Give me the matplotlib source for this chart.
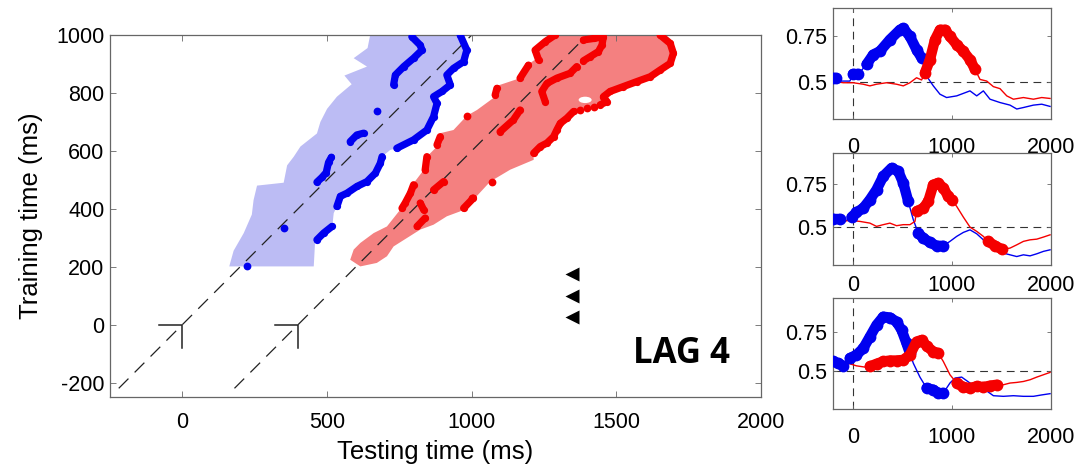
import numpy as np
import matplotlib
matplotlib.use("Agg")
import matplotlib.pyplot as plt
from matplotlib.patches import Polygon, Ellipse

plt.rcParams['font.family'] = ['Liberation Sans', 'DejaVu Sans']
plt.rcParams['axes.unicode_minus'] = False

BLUE = '#0000f0'
RED = '#f50000'
BLUE_FILL = '#bcbcf4'
RED_FILL = '#f48080'
FRAME = '#666666'

# ---- main panel: temporal generalisation regions (testing ms, training ms)
blue_region_x = [162, 454, 459, 517, 523, 534, 546, 569, 603, 638, 667, 684, 690,
                 718, 741, 799, 845, 868, 880, 868, 897, 926, 914, 937, 972, 983,
                 966, 649, 640, 592, 638, 560, 585, 534, 500, 477, 465, 408, 385,
                 362, 350, 258, 246, 240, 212, 177]
blue_region_y = [201, 201, 293, 328, 385, 408, 443, 454, 477, 494, 523, 557, 580,
                 603, 609, 638, 672, 718, 764, 787, 805, 828, 862, 885, 908, 948,
                 1000, 1000, 955, 920, 891, 860, 830, 787, 745, 700, 660, 615, 580,
                 550, 490, 480, 430, 380, 316, 255]

red_region_x = [580, 615, 672, 707, 730, 776, 822, 868, 914, 960, 1000, 1064, 1133,
                1214, 1214, 1260, 1294, 1306, 1340, 1363, 1409, 1444, 1467, 1450,
                1501, 1570, 1640, 1686, 1697, 1674, 1651, 1280, 1254, 1214, 1225,
                1191, 1167, 1098, 1075, 1081, 1018, 983, 937, 891, 880, 845, 834,
                799, 776, 753, 707, 661, 638, 615, 592]
red_region_y = [224, 201, 213, 236, 270, 299, 328, 345, 374, 391, 425, 494, 535,
                569, 592, 627, 661, 695, 718, 741, 753, 759, 770, 793,
                805, 833, 868, 902, 948, 983, 1000, 1000, 977, 954, 919,
                896, 851, 828, 810, 787, 741, 721, 672, 661, 615, 580, 534,
                488, 431, 397, 339, 316, 299, 282, 259]

# significant points drawn as dotted strands
blue_strands = [
    ([534, 546, 569, 603, 638, 667, 684, 690], [408, 443, 454, 477, 494, 523, 557, 580]),
    ([741, 799, 845, 868, 880, 868, 897, 926, 914, 937, 972, 983, 960],
     [609, 638, 672, 718, 764, 787, 805, 828, 862, 885, 908, 948, 1000]),
    ([465, 488, 517], [293, 316, 339]),
    ([730, 736, 765, 799, 828, 822, 793], [828, 862, 891, 920, 948, 965, 994]),
    ([465, 482, 497, 505, 515], [492, 508, 525, 560, 578]),
    ([580, 603, 626], [632, 655, 661]),
]
blue_single_x = [223, 350, 672]
blue_single_y = [201, 333, 738]

red_strands = [
    ([1651, 1686, 1697, 1686, 1651, 1617, 1570, 1524, 1478, 1455, 1467, 1444],
     [1000, 971, 937, 902, 879, 856, 839, 822, 805, 787, 770, 759]),
    ([1352, 1329, 1306, 1294, 1283, 1260, 1237, 1214], [736, 713, 695, 672, 649, 627, 615, 592]),
    ([1386, 1421, 1455, 1450, 1438, 1409, 1386], [983, 988, 994, 965, 943, 925, 911]),
    ([1363, 1340, 1294, 1260, 1242, 1254], [891, 868, 851, 833, 805, 770]),
    ([1288, 1254, 1219, 1231], [1000, 977, 948, 914]),
    ([1196, 1167], [896, 851]),
    ([1087, 1081], [816, 793]),
    ([1167, 1144, 1098], [741, 707, 666]),
    ([891, 880], [649, 621]),
    ([845, 839], [580, 534]),
    ([799, 788, 770, 759], [483, 454, 420, 402]),
    ([822, 834], [420, 396]),
    ([868, 903], [465, 494]),
    ([811, 839], [339, 368]),
    ([972, 1006], [402, 437]),
]
red_single_x = [983, 1070, 1001, 1421, 1398, 1375]
red_single_y = [721, 494, 437, 753, 747, 741]

lag_onsets = [0, 400]
diag_train = [-220, 1000]
marker_train = [175, 100, 25]
marker_test = 1345

# ---- right panels: decoding time courses (ms, AUC)
p_blue_t = [
    [-198, -165, -114, -30, 4, 54, 138, 206, 273, 374, 475, 509, 576, 643, 694, 744, 812,
     879, 946, 1048, 1182, 1250, 1317, 1384, 1485, 1586, 1654, 1721, 1822, 1906, 1990],
    [-198, -131, -81, -13, 37, 105, 172, 239, 307, 391, 458, 509, 559, 610, 660, 711, 778,
     846, 913, 980, 1048, 1115, 1182, 1250, 1317, 1384, 1452, 1519, 1586, 1654, 1721,
     1788, 1856, 1923, 1990],
    [-198, -148, -97, -30, 37, 105, 172, 239, 307, 374, 441, 492, 542, 576, 610, 677, 744,
     812, 862, 913, 980, 1031, 1098, 1182, 1250, 1334, 1418, 1519, 1620, 1721, 1822,
     1906, 1990],
]
p_blue_v = [
    [0.523, 0.523, 0.505, 0.505, 0.541, 0.541, 0.595, 0.648, 0.666, 0.729, 0.782, 0.791,
     0.746, 0.675, 0.630, 0.532, 0.479, 0.434, 0.416, 0.425, 0.452, 0.425, 0.452, 0.407,
     0.389, 0.375, 0.354, 0.362, 0.375, 0.380, 0.368],
    [0.547, 0.547, 0.533, 0.558, 0.585, 0.610, 0.659, 0.717, 0.795, 0.843, 0.824, 0.756,
     0.649, 0.543, 0.465, 0.436, 0.411, 0.391, 0.391, 0.417, 0.446, 0.469, 0.484, 0.461,
     0.426, 0.391, 0.364, 0.349, 0.339, 0.329, 0.339, 0.333, 0.345, 0.359, 0.368],
    [0.564, 0.553, 0.536, 0.585, 0.606, 0.648, 0.722, 0.797, 0.850, 0.845, 0.818, 0.765,
     0.680, 0.617, 0.553, 0.464, 0.394, 0.383, 0.362, 0.362, 0.426, 0.458, 0.464, 0.426,
     0.405, 0.383, 0.345, 0.341, 0.345, 0.341, 0.341, 0.350, 0.358],
]
p_red_t = [
    [-198, -97, 4, 105, 172, 239, 340, 441, 509, 576, 643, 694, 728, 778, 829, 879, 930,
     980, 1048, 1115, 1182, 1233, 1283, 1351, 1418, 1485, 1553, 1620, 1721, 1822, 1906, 1990],
    [-198, -114, -30, 71, 172, 239, 307, 374, 441, 509, 576, 627, 643, 711, 761, 812, 862,
     913, 963, 997, 1048, 1115, 1182, 1250, 1317, 1367, 1435, 1502, 1586, 1654, 1721,
     1788, 1856, 1923, 1990],
    [-198, -114, -30, 37, 122, 172, 239, 307, 374, 441, 509, 576, 643, 694, 744, 812, 862,
     913, 980, 1048, 1115, 1182, 1250, 1317, 1384, 1452, 1519, 1586, 1654, 1721, 1788,
     1856, 1923, 1990],
]
p_red_v = [
    [0.505, 0.496, 0.496, 0.488, 0.479, 0.488, 0.496, 0.488, 0.479, 0.496, 0.523, 0.511,
     0.550, 0.621, 0.729, 0.782, 0.782, 0.746, 0.702, 0.666, 0.621, 0.568, 0.514, 0.505,
     0.475, 0.464, 0.425, 0.407, 0.416, 0.407, 0.416, 0.411],
    [0.543, 0.533, 0.539, 0.533, 0.523, 0.504, 0.514, 0.523, 0.508, 0.514, 0.514, 0.533,
     0.591, 0.610, 0.649, 0.746, 0.756, 0.727, 0.678, 0.659, 0.620, 0.558, 0.500, 0.475,
     0.446, 0.417, 0.391, 0.372, 0.378, 0.397, 0.417, 0.426, 0.430, 0.442, 0.455],
    [0.570, 0.557, 0.549, 0.536, 0.528, 0.532, 0.549, 0.564, 0.570, 0.570, 0.574, 0.606,
     0.691, 0.701, 0.663, 0.627, 0.617, 0.564, 0.479, 0.426, 0.400, 0.394, 0.405, 0.400,
     0.409, 0.415, 0.415, 0.426, 0.430, 0.436, 0.447, 0.464, 0.479, 0.494],
]
# significant windows (ms)
p_blue_sig = [
    [(-200, -160), (0, 60), (130, 700)],
    [(-200, -130), (-20, 560), (650, 920)],
    [(-200, -95), (-35, 580), (740, 920)],
]
p_red_sig = [
    [(720, 1240)],
    [(640, 1000), (1360, 1510)],
    [(170, 870), (1040, 1460)],
]
p_ylim = [(0.30, 0.90), (0.28, 0.93), (0.26, 0.97)]
p_xpad = [13, 7, 13]

fig = plt.figure(figsize=(10.8, 4.7), dpi=100)

# ---- main panel
ax = fig.add_axes([0.1019, 0.1553, 0.6028, 0.7702])
ax.add_patch(Polygon(np.column_stack([blue_region_x, blue_region_y]),
                     closed=True, facecolor=BLUE_FILL, edgecolor='none', zorder=1))
ax.add_patch(Polygon(np.column_stack([red_region_x, red_region_y]),
                     closed=True, facecolor=RED_FILL, edgecolor='none', zorder=1))
ax.add_patch(Ellipse((1392, 776), 45, 22, facecolor='white', edgecolor='none', zorder=1.5))

for lag in lag_onsets:
    ax.plot([diag_train[0] + lag, diag_train[1] + lag], diag_train, color='#222222',
            lw=0.9, dashes=(11, 7), zorder=2)
    ax.plot([lag - 80, lag, lag], [0, 0, -80], color='#222222', lw=1.1, zorder=2)

for xs, ys in blue_strands:
    ax.plot(xs, ys, color=BLUE, lw=5.2, marker='o', ms=5.2, mec='none',
            solid_capstyle='round', solid_joinstyle='round', zorder=3)
ax.plot(blue_single_x, blue_single_y, 'o', color=BLUE, ms=5.6, mec='none', zorder=3)
for xs, ys in red_strands:
    ax.plot(xs, ys, color=RED, lw=5.2, marker='o', ms=5.2, mec='none',
            solid_capstyle='round', solid_joinstyle='round', zorder=3)
ax.plot(red_single_x, red_single_y, 'o', color=RED, ms=5.6, mec='none', zorder=3)

ax.plot([marker_test] * len(marker_train), marker_train, '<', color='black',
        ms=10, mec='none', zorder=3)
ax.text(1724, -103, 'LAG 4', family='Open Sans', fontweight='bold', fontsize=25,
        ha='center', va='center')

ax.set_xlim(-250, 2000)
ax.set_ylim(-250, 1000)
ax.set_xticks([0, 500, 1000, 1500, 2000])
ax.set_yticks([-200, 0, 200, 400, 600, 800, 1000])
ax.tick_params(direction='in', length=4, width=0.6, color=FRAME, top=True, right=True,
               labelsize=15.5)
ax.tick_params(axis='x', pad=11)
ax.tick_params(axis='y', pad=4)
ax.set_xlabel('Testing time (ms)', fontsize=18.5)
ax.set_ylabel('Training time (ms)', fontsize=18.5)
ax.xaxis.set_label_coords(0.5, -0.118)
ax.yaxis.set_label_coords(-0.103, 0.5)
for s in ax.spines.values():
    s.set_color(FRAME)
    s.set_linewidth(0.9)

# ---- right panels
boxes = [[0.7713, 0.7468, 0.2019, 0.2362],
         [0.7713, 0.4362, 0.2019, 0.2383],
         [0.7713, 0.1298, 0.2019, 0.2362]]


def draw_thick(a, t, v, windows, color):
    t = np.asarray(t)
    v = np.asarray(v)
    for lo, hi in windows:
        m = (t >= lo) & (t <= hi)
        a.plot(t[m], v[m], color=color, lw=7.5, marker='o', ms=8.5, mec='none',
               solid_capstyle='round', solid_joinstyle='round', zorder=3)


for i, box in enumerate(boxes):
    a = fig.add_axes(box)
    a.axhline(0.5, color='#333333', lw=0.8, dashes=(7, 5), zorder=1)
    a.axvline(0, color='#333333', lw=0.8, dashes=(7, 5), zorder=1)
    a.plot(p_blue_t[i], p_blue_v[i], color=BLUE, lw=1.0, zorder=2)
    a.plot(p_red_t[i], p_red_v[i], color=RED, lw=1.0, zorder=2)
    draw_thick(a, p_blue_t[i], p_blue_v[i], p_blue_sig[i], BLUE)
    draw_thick(a, p_red_t[i], p_red_v[i], p_red_sig[i], RED)
    a.set_xlim(-200, 2000)
    a.set_ylim(*p_ylim[i])
    a.set_xticks([0, 1000, 2000])
    a.set_yticks([0.5, 0.75])
    a.set_yticklabels(['0.5', '0.75'])
    a.tick_params(direction='in', length=3, width=0.6, color=FRAME, top=True, right=True,
                  labelsize=15.5)
    a.tick_params(axis='x', pad=p_xpad[i])
    a.tick_params(axis='y', pad=4)
    for s in a.spines.values():
        s.set_color(FRAME)
        s.set_linewidth(0.9)

fig.savefig('out.png', dpi=100)
